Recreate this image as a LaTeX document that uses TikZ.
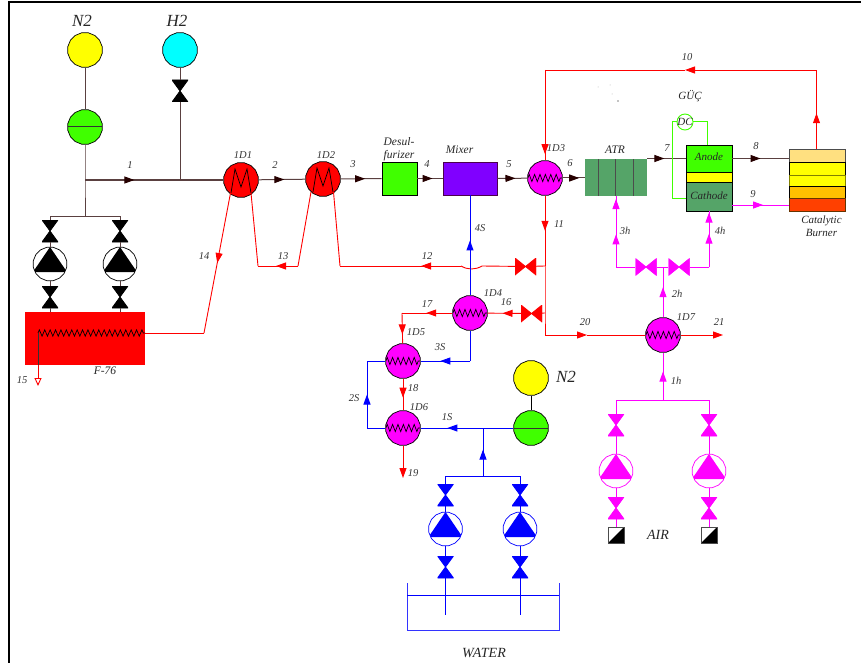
\documentclass[tikz,border=0pt]{standalone}
\usepackage{fontspec}
\setmainfont{Liberation Serif}
\usetikzlibrary{arrows.meta,shapes.geometric,decorations.markings,decorations.pathmorphing}
\definecolor{procbrown}{HTML}{5A4040}
\definecolor{hotred}{HTML}{FF0000}
\definecolor{airpink}{HTML}{FF00FF}
\definecolor{watblue}{HTML}{0000FF}
\definecolor{lime}{HTML}{40FF00}
\definecolor{seagrn}{HTML}{55A468}
\definecolor{sunyellow}{HTML}{FFFF00}
\definecolor{skycyan}{HTML}{00FFFF}
\tikzset{
  >={Triangle[length=10pt,width=7pt]},
  flow/.style={postaction={decorate},decoration={markings,mark=at position #1 with {\arrow{>}}}},
  darkflow/.style={postaction={decorate,draw=none},decoration={markings,mark=at position #1 with {\arrow{Triangle[length=10pt,width=7pt,color=black!85!red]}}}},
  proc/.style={draw=procbrown,line width=1pt},
  hot/.style={draw=hotred,line width=.9pt},
  air/.style={draw=airpink,line width=1pt},
  wat/.style={draw=watblue,line width=1pt},
  volt/.style={draw=lime,line width=1pt},
  lbl/.style={font=\itshape\fontsize{10.5}{12}\selectfont,text=black!80,inner sep=0pt},
  namelbl/.style={font=\itshape\fontsize{11}{13}\selectfont,text=black!85,inner sep=0pt,align=center},
  tagtxt/.style={font=\itshape\fontsize{11.5}{13}\selectfont,text=black!85,inner sep=0pt,align=center},
  biglbl/.style={font=\itshape\fontsize{#1}{#1}\selectfont,text=black!85,inner sep=0pt},
  vessel/.style={regular polygon,regular polygon sides=16,minimum size=35pt,inner sep=0pt,draw=black,line width=.7pt,fill=#1},
  coilhx/.style={vessel=airpink,path picture={\draw[black,line width=.7pt,decorate,decoration={zigzag,segment length=5.4pt,amplitude=3.6pt}] (path picture bounding box.west) -- (path picture bounding box.east);}},
  mhx/.style={vessel=hotred,path picture={\draw[black,line width=.7pt,shift={(path picture bounding box.center)}] (-10,13) -- (-6,-11) -- (0,7) -- (6,-11) -- (10,13);}},
  blower/.style={vessel=lime,path picture={\draw[black!80,line width=1pt] (path picture bounding box.west) -- (path picture bounding box.east);}},
  valvev/.style={rectangle,minimum width=16pt,minimum height=22pt,inner sep=0pt,path picture={\filldraw[#1,line width=.8pt] (path picture bounding box.north west) -- (path picture bounding box.north east) -- (path picture bounding box.south west) -- (path picture bounding box.south east) -- cycle;}},
  valveh/.style={rectangle,minimum width=21pt,minimum height=17pt,inner sep=0pt,path picture={\filldraw[#1,line width=.8pt] (path picture bounding box.north west) -- (path picture bounding box.south west) -- (path picture bounding box.north east) -- (path picture bounding box.south east) -- cycle;}},
  pump/.style={regular polygon,regular polygon sides=16,minimum size=34pt,inner sep=0pt,draw=#1,line width=.7pt,fill=white,path picture={\fill[#1,shift={(path picture bounding box.center)}] (0,-17) -- (17,8) -- (-17,8) -- cycle;}},
  airinlet/.style={rectangle,minimum size=16pt,inner sep=0pt,draw=black!70,line width=.7pt,fill=white,path picture={\fill[black] (path picture bounding box.south west) -- (path picture bounding box.north east) -- (path picture bounding box.south east) -- cycle;}},
  box/.style={rectangle,inner sep=0pt,draw=#1,line width=.9pt}
}
\begin{document}
\begin{tikzpicture}[x=1pt,y=-1pt]
  \useasboundingbox (0,0) rectangle (861,663);
  \draw[black,line width=2.6pt] (9,663) -- (9,2) -- (861,2);

  \node[vessel=sunyellow] (sn2) at (85,50) {};
  \node[vessel=skycyan] (sh2) at (180,50) {};
  \node[blower] (comp1) at (85,127) {};
  \node[valvev=black] (vh2) at (180,91) {};
  \node[mhx] (d1) at (241,180) {};
  \node[mhx] (d2) at (323,179) {};
  \node[box=black,fill=lime,minimum width=35pt,minimum height=33pt] (desul) at (399.5,178.5) {};
  \node[box=violet!60!black,fill={rgb,255:red,128;green,0;blue,255},minimum width=54pt,minimum height=33pt] (mixer) at (470,178.5) {};
  \node[coilhx] (d3) at (545,178) {};
  \node[rectangle,fill=seagrn,minimum width=62pt,minimum height=37pt,inner sep=0pt] (atr) at (616,177.5) {};
  \node[box=black,fill=lime,minimum width=46pt,minimum height=27pt] (anode) at (709,158.5) {};
  \node[box=black,fill=sunyellow,minimum width=46pt,minimum height=10pt] (memb) at (709,177) {};
  \node[box=black,fill=seagrn,minimum width=46pt,minimum height=29pt] (cathode) at (709,196.5) {};
  \node[circle,draw=lime,line width=.9pt,fill=white,minimum size=16pt,inner sep=0pt] (dc) at (685,122) {};
  \node[box=black!70,fill={rgb,255:red,255;green,224;blue,128},minimum width=56pt,minimum height=13pt] (burn1) at (817,155.5) {};
  \node[box=black,fill=sunyellow,minimum width=56pt,minimum height=13pt] (burn2) at (817,168.5) {};
  \node[box=black!50!sunyellow,fill=sunyellow,minimum width=56pt,minimum height=11pt] (burn3) at (817,180.5) {};
  \node[box=black,fill={rgb,255:red,255;green,192;blue,0},minimum width=56pt,minimum height=12pt] (burn4) at (817,192) {};
  \node[box=black!60!orange,fill={rgb,255:red,255;green,64;blue,0},minimum width=56pt,minimum height=13pt] (burn5) at (817,204.5) {};
  \node[rectangle,fill=hotred,minimum width=120pt,minimum height=53pt,inner sep=0pt] (heater) at (85,338.5) {};

  \node[valvev=black] (vf1) at (50,231) {};
  \node[valvev=black] (vf2) at (120,231) {};
  \node[pump=black] (pf1) at (50,264) {};
  \node[pump=black] (pf2) at (120,264) {};
  \node[valvev=black] (vf3) at (50,297) {};
  \node[valvev=black] (vf4) at (120,297) {};

  \node[valveh=hotred] (v12) at (525.5,266.5) {};
  \node[valveh=hotred] (v16) at (531.5,313.5) {};
  \node[coilhx] (d4) at (470,313) {};
  \node[coilhx] (d5) at (403,361) {};
  \node[coilhx] (d6) at (403,428) {};
  \node[coilhx] (d7) at (663,335) {};
  \node[vessel=sunyellow] (sn3) at (531,378) {};
  \node[blower] (comp2) at (531,428) {};

  \node[valvev=watblue] (vw1) at (445.5,495) {};
  \node[valvev=watblue] (vw2) at (520,495) {};
  \node[pump=watblue] (pw1) at (445.5,529) {};
  \node[pump=watblue] (pw2) at (520,529) {};
  \node[valvev=watblue] (vw3) at (445.5,567) {};
  \node[valvev=watblue] (vw4) at (520,567) {};

  \node[valveh=airpink] (va1) at (646,267) {};
  \node[valveh=airpink] (va2) at (679,267) {};
  \node[valvev=airpink] (va3) at (616,425) {};
  \node[valvev=airpink] (va4) at (709,425) {};
  \node[pump=airpink] (pa1) at (616,471) {};
  \node[pump=airpink] (pa2) at (709,471) {};
  \node[valvev=airpink] (va5) at (616,508) {};
  \node[valvev=airpink] (va6) at (709,508) {};
  \node[airinlet] (in1) at (616,535) {};
  \node[airinlet] (in2) at (709,535) {};

  \coordinate (j1) at (85,180);
  \coordinate (j2) at (85,216);
  \coordinate (j3) at (180,180);
  \coordinate (b1) at (50,216);
  \coordinate (b2) at (120,216);
  \draw[proc] (sn2) -- (comp1);
  \draw[proc] (comp1) -- (j1) -- (j2);
  \draw[proc] (b1) -- (b2);
  \draw[proc] (b1) -- (vf1);
  \draw[proc] (b2) -- (vf2);
  \draw[proc] (vf1) -- (pf1) -- (vf3) -- (heater.north -| vf3);
  \draw[proc] (vf2) -- (pf2) -- (vf4) -- (heater.north -| vf4);
  \draw[proc] (sh2) -- (vh2);
  \draw[proc] (vh2) -- (j3);
  \draw[proc,darkflow=.52] (j1) -- (j3);
  \draw[proc] (j3) -- (d1);
  \draw[proc,darkflow=.55] (d1) -- (d2);
  \draw[proc,darkflow=.6] (d2) -- (desul);
  \draw[proc,darkflow=.6] (desul) -- (mixer.west |- desul);
  \draw[proc,darkflow=.6] (mixer.east |- desul) -- (d3);
  \draw[proc,darkflow=.75] (d3) -- (atr.west |- d3);
  \draw[proc,darkflow=.45] (atr.east |- anode) -- (anode);
  \draw[proc,darkflow=.5] (anode) -- (burn2.west |- anode);

  \fill[black!70] (598,159) rectangle +(.8,37);
  \fill[black!70] (615,159) rectangle +(.8,37);
  \fill[black!70] (633,159) rectangle +(.8,37);

  \coordinate (t1) at (672,122);
  \coordinate (t2) at (672,198);
  \coordinate (t3) at (707,122);
  \draw[volt] (dc) -- (t1) -- (t2) -- (cathode.west |- t2);
  \draw[volt] (dc) -- (t3) -- (anode.north -| t3);

  \coordinate (r1) at (816.5,70);
  \coordinate (r2) at (545,70);
  \coordinate (r3) at (545,266);
  \coordinate (r4) at (545,313);
  \coordinate (r5) at (545,335);
  \coordinate (m10) at (685,70);
  \coordinate (m20) at (587,335);
  \draw[hot,flow=.45] (burn1.north -| r1) -- (r1);
  \draw[hot,->] (r1) -- (m10);
  \draw[hot] (m10) -- (r2);
  \draw[hot,flow=.93] (r2) -- (d3);
  \draw[hot,flow=.5] (d3) -- (r3);
  \draw[hot] (r3) -- (r4) -- (r5);
  \draw[hot,->] (r5) -- (m20);
  \draw[hot] (m20) -- (d7);
  \draw[hot,->] (d7) -- ++(60,0) coordinate (e21);
  \draw[hot] (r3) -- (v12);
  \draw[hot] (r4) -- (v16);
  \draw[hot,flow=.55] (v16) -- (d4);

  \coordinate (h1) at (482,266);
  \coordinate (h2) at (461,266);
  \coordinate (r6) at (340,266);
  \coordinate (r7) at (298,266);
  \coordinate (r8) at (258,266);
  \coordinate (r9) at (204,333);
  \coordinate (leg1) at (230.5,193);
  \coordinate (leg2) at (251,193);
  \coordinate (leg3) at (311,192);
  \coordinate (leg4) at (333.5,192);
  \draw[hot] (v12) -- (h1) .. controls (475,270) and (468,270) .. (h2);
  \draw[hot,flow=.33] (h2) -- (r6);
  \draw[hot] (r6) -- (leg4);
  \draw[hot] (leg3) -- (r7);
  \draw[hot,flow=.55] (r7) -- (r8);
  \draw[hot] (r8) -- (leg2);
  \draw[hot,flow=.5] (leg1) -- (r9);
  \draw[hot] (r9) -- (heater.east |- r9);

  \coordinate (co1) at (38,333);
  \coordinate (co2) at (38,365);
  \coordinate (co3) at (38,386);
  \draw[black,line width=.7pt,decorate,decoration={zigzag,segment length=5.4pt,amplitude=3.2pt}] (co1) -- (heater.east |- co1);
  \draw[black!80,line width=1pt] (co1) -- (co2);
  \draw[hot,-{Triangle[open,length=8pt,width=7pt]}] (co2) -- (co3);

  \coordinate (s1) at (402,313);
  \draw[hot,flow=.52] (d4) -- (s1);
  \draw[hot,flow=.7] (s1) -- (d5);
  \draw[hot,flow=.6] (d5) -- (d6);
  \draw[hot,->] (d6) -- ++(0,50) coordinate (e19);

  \coordinate (w1) at (470,361);
  \coordinate (w2) at (367,428);
  \coordinate (w3) at (367,361);
  \coordinate (w4) at (483,428);
  \coordinate (w5) at (483,476);
  \coordinate (w6) at (445.5,476);
  \coordinate (w7) at (520,476);
  \coordinate (w8) at (445.5,615);
  \coordinate (w9) at (520,615);
  \draw[wat,flow=.55] (d4) -- (mixer.south -| d4);
  \draw[wat] (d4) -- (w1);
  \draw[wat,flow=.6] (w1) -- (d5);
  \draw[wat] (d6) -- (w2);
  \draw[wat,flow=.5] (w2) -- (w3);
  \draw[wat] (w3) -- (d5);
  \draw[wat] (comp2) -- (w4);
  \draw[wat,flow=.57] (w4) -- (d6);
  \draw[wat,flow=.55] (w5) -- (w4);
  \draw[wat] (w6) -- (w7);
  \draw[wat] (w6) -- (vw1);
  \draw[wat] (w7) -- (vw2);
  \draw[wat] (vw1) -- (pw1) -- (vw3) -- (w8);
  \draw[wat] (vw2) -- (pw2) -- (vw4) -- (w9);
  \draw[black,line width=.8pt] (sn3) -- (comp2);

  \coordinate (tk1) at (407,583);
  \coordinate (tk2) at (407,630);
  \coordinate (tk3) at (559,630);
  \coordinate (tk4) at (559,583);
  \coordinate (tk5) at (407,595);
  \coordinate (tk6) at (559,595);
  \draw[wat,draw=watblue!80!white] (tk1) -- (tk2) -- (tk3) -- (tk4);
  \draw[wat,line width=.7pt] (tk5) -- (tk6);

  \coordinate (a1) at (663,267);
  \coordinate (a2) at (616,267);
  \coordinate (a3) at (709,267);
  \coordinate (a4) at (663,400);
  \coordinate (a5) at (616,400);
  \coordinate (a6) at (709,400);
  \draw[air] (va1) -- (va2);
  \draw[air] (va1) -- (a2);
  \draw[air] (va2) -- (a3);
  \draw[air,flow=.6] (d7) -- (a1);
  \draw[air,flow=.6] (a4) -- (d7);
  \draw[air] (a5) -- (a6);
  \draw[air] (a5) -- (va3);
  \draw[air] (a6) -- (va4);
  \draw[air] (va3) -- (pa1) -- (va5) -- (in1);
  \draw[air] (va4) -- (pa2) -- (va6) -- (in2);
  \draw[air,flow=.46] (a2) -- (atr.south -| a2);
  \draw[air,flow=.96] (a2) -- (atr.south -| a2);
  \draw[air,flow=.6] (a3) -- (cathode.south -| a3);
  \draw[air,flow=.98] (a3) -- (cathode.south -| a3);
  \coordinate (c9) at (732,205);
  \draw[air,flow=.55] (c9) -- (burn5.west |- c9);

  \fill[black] (618,101) circle (.6pt);
  \fill[black!30] (598,87) circle (.5pt);
  \fill[black!30] (610,85) circle (.5pt);
  \fill[black!30] (612,94) circle (.5pt);

  \node[biglbl=17] (tn2a) at (82,21) {N2};
  \node[biglbl=17] (th2) at (177,21) {H2};
  \node[biglbl=17] (tn2b) at (566,377) {N2};
  \node[biglbl=14] (twater) at (484,653) {WATER};
  \node[biglbl=14] (tair) at (658,535) {AIR};
  \node[namelbl] (tguc) at (690,96) {GÜÇ};
  \node[namelbl] (tdc) at (dc) {DC};
  \node[namelbl] (tanode) at (709,157) {Anode};
  \node[namelbl] (tcathode) at (709,196) {Cathode};
  \node[namelbl] (tcat) at (821.5,226) {Catalytic\\[-.5pt]Burner};
  \node[tagtxt] (tdesul) at (399,149) {Desul-\\furizer};
  \node[tagtxt] (tmixer) at (459.5,150) {Mixer};
  \node[tagtxt] (tatr) at (615,150) {ATR};
  \node[tagtxt] (tf76) at (105,371) {F-76};

  \node[lbl] (l1) at (130,165) {1};
  \node[lbl] (l2) at (275,165) {2};
  \node[lbl] (l3) at (353,164) {3};
  \node[lbl] (l4) at (427,164) {4};
  \node[lbl] (l5) at (509,164) {5};
  \node[lbl] (l6) at (570,163) {6};
  \node[lbl] (l7) at (667,148) {7};
  \node[lbl] (l8) at (756,146) {8};
  \node[lbl] (l9) at (753,194) {9};
  \node[lbl] (l10) at (687,57) {10};
  \node[lbl] (l11) at (559,224) {11};
  \node[lbl] (l12) at (427,256) {12};
  \node[lbl] (l13) at (283,256) {13};
  \node[lbl] (l14) at (204,256) {14};
  \node[lbl] (l15) at (22,380) {15};
  \node[lbl] (l16) at (506,302) {16};
  \node[lbl] (l17) at (427,304) {17};
  \node[lbl] (l18) at (413,388) {18};
  \node[lbl] (l19) at (413,473) {19};
  \node[lbl] (l20) at (585,322) {20};
  \node[lbl] (l21) at (719,322) {21};
  \node[lbl] (n1d1) at (243,155) {1D1};
  \node[lbl] (n1d2) at (326,155) {1D2};
  \node[lbl] (n1d3) at (556,148) {1D3};
  \node[lbl] (n1d4) at (493,293) {1D4};
  \node[lbl] (n1d5) at (416,332) {1D5};
  \node[lbl] (n1d6) at (419,407) {1D6};
  \node[lbl] (n1d7) at (686,317) {1D7};
  \node[lbl] (s1s) at (447,417) {1S};
  \node[lbl] (s2s) at (354,398) {2S};
  \node[lbl] (s3s) at (440,347) {3S};
  \node[lbl] (s4s) at (480,228) {4S};
  \node[lbl] (h1h) at (676,381) {1h};
  \node[lbl] (h2h) at (677,294) {2h};
  \node[lbl] (h3h) at (625,231) {3h};
  \node[lbl] (h4h) at (720,231) {4h};
\end{tikzpicture}
\end{document}
